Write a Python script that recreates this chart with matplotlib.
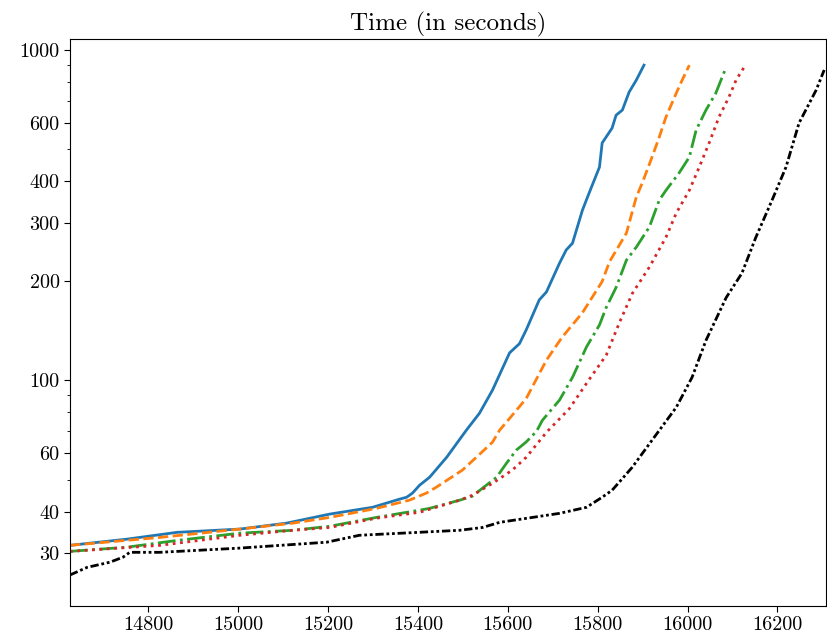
import matplotlib
matplotlib.use("Agg")
import matplotlib.pyplot as plt

plt.rcParams['font.family'] = 'serif'
plt.rcParams['font.serif'] = ['cmr10', 'DejaVu Serif']
plt.rcParams['axes.formatter.use_mathtext'] = True

# cactus curves: (number of instances solved, time in seconds)
blue_x = [14626, 14753, 14864, 15004, 15108, 15204, 15299, 15359, 15375, 15388,
          15404, 15426, 15464, 15508, 15537, 15566, 15604, 15626, 15641, 15670,
          15686, 15715, 15730, 15744, 15766, 15781, 15804, 15810, 15832, 15841,
          15855, 15870, 15886, 15903]
blue_y = [31.6, 33.0, 34.6, 35.4, 36.9, 39.3, 41.2, 43.6, 44.2, 45.5,
          48.1, 50.8, 58.4, 70.6, 79.4, 93.3, 121, 129, 142, 175,
          185, 226, 248, 260, 327, 369, 442, 523, 580, 635,
          658, 746, 811, 900]

orange_x = [14626, 14826, 15004, 15122, 15204, 15308, 15381, 15419, 15441, 15499,
            15530, 15566, 15582, 15597, 15641, 15686, 15721, 15766, 15810, 15826,
            15864, 15886, 15899, 15921, 15937, 15952, 15975, 15988, 16004]
orange_y = [31.6, 33.4, 35.4, 36.9, 38.4, 40.9, 43.3, 45.5, 47.4, 53.4,
            58.4, 64.9, 70.6, 74.6, 88.0, 115, 135, 160, 199, 228,
            279, 359, 395, 474, 545, 627, 741, 811, 900]

green_x = [14626, 14753, 14864, 15004, 15122, 15204, 15308, 15404, 15426, 15493,
           15521, 15544, 15575, 15597, 15619, 15641, 15664, 15677, 15715, 15744,
           15775, 15804, 15819, 15841, 15864, 15886, 15915, 15937, 15952, 15981,
           16004, 16019, 16041, 16063, 16077, 16086]
green_y = [30.3, 31.2, 32.7, 34.4, 35.1, 36.1, 38.4, 40.4, 40.9, 43.3,
           44.5, 47.1, 50.8, 56.0, 61.4, 65.0, 70.0, 75.6, 87.0, 102,
           126, 147, 166, 191, 231, 253, 291, 351, 376, 424,
           474, 572, 658, 741, 828, 888]

red_x = [14626, 14826, 15004, 15122, 15204, 15308, 15404, 15493, 15521, 15566,
         15610, 15641, 15686, 15737, 15780, 15819, 15848, 15877, 15915, 15952,
         15975, 16004, 16026, 16048, 16070, 16092, 16108, 16126]
red_y = [30.3, 31.6, 33.9, 35.1, 35.8, 38.2, 39.8, 43.3, 44.8, 48.7,
         53.4, 58.4, 69.5, 82.0, 100, 119, 149, 183, 220, 271,
         321, 376, 442, 523, 627, 720, 811, 888]

black_x = [14626, 14664, 14715, 14744, 14759, 14826, 15004, 15197, 15270, 15493,
           15544, 15582, 15715, 15775, 15810, 15832, 15848, 15877, 15921, 15975,
           16010, 16041, 16086, 16121, 16152, 16188, 16219, 16248, 16286, 16304]
black_y = [25.7, 27.1, 28.1, 29.1, 30.1, 30.1, 31.0, 32.3, 33.9, 35.1,
           35.8, 37.1, 39.5, 41.2, 44.2, 46.4, 49.1, 54.5, 65.8, 82.8,
           102, 132, 178, 211, 271, 351, 442, 601, 756, 870]

major_y = [30, 40, 60, 100, 200, 300, 400, 600, 1000]
minor_y = [50, 70, 80, 90, 500, 700, 800, 900]
x_ticks = [14800, 15000, 15200, 15400, 15600, 15800, 16000, 16200]

fig = plt.figure(figsize=(8.27, 6.44), dpi=100)
ax = fig.add_axes([70 / 827, 1 - 606 / 644, 756 / 827, 567 / 644])

ax.plot(blue_x, blue_y, color='C0', lw=2, ls='-')
ax.plot(orange_x, orange_y, color='C1', lw=2, ls='--')
ax.plot(green_x, green_y, color='C2', lw=2, ls='-.')
ax.plot(red_x, red_y, color='C3', lw=2, ls=':')
ax.plot(black_x, black_y, color='black', lw=2, ls=(0, (3, 1, 1, 1, 1, 1)))

ax.set_yscale('log')
ax.set_xlim(14626, 16308)
ax.set_ylim(20.7, 1080)

ax.set_yticks(major_y)
ax.set_yticklabels([str(v) for v in major_y])
ax.set_yticks(minor_y, minor=True)
ax.set_yticklabels([], minor=True)
ax.set_xticks(x_ticks)
ax.set_xticklabels([str(v) for v in x_ticks])
ax.tick_params(axis='both', which='major', labelsize=14.5, length=4)
ax.tick_params(axis='y', which='minor', length=2.5)

ax.set_title('Time (in seconds)', fontsize=18, pad=6)

fig.savefig('out.png', dpi=100)
